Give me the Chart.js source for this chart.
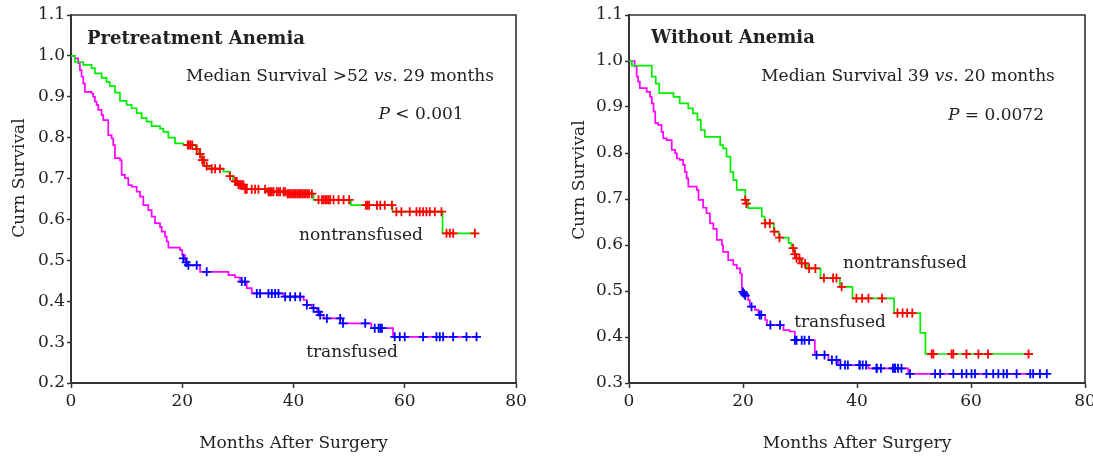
<!DOCTYPE html>
<html><head><meta charset="utf-8">
<script src="https://cdn.jsdelivr.net/npm/chart.js@4/dist/chart.umd.min.js"></script>
<style>
html,body{margin:0;padding:0;background:#fff;width:1093px;height:459px;overflow:hidden;}
#w1{position:absolute;left:0;top:0;width:546px;height:459px;}
#w2{position:absolute;left:546px;top:0;width:547px;height:459px;}
</style></head><body>
<div id="w1"><canvas id="c1" width="546" height="459"></canvas></div>
<div id="w2"><canvas id="c2" width="547" height="459"></canvas></div>
<script>
// ---------- tick labels ----------
const xTicks = [0, 20, 40, 60, 80];
const yTicksA = [0.2, 0.3, 0.4, 0.5, 0.6, 0.7, 0.8, 0.9, 1.0, 1.1];
const yTicksB = [0.3, 0.4, 0.5, 0.6, 0.7, 0.8, 0.9, 1.0, 1.1];

// ---------- Panel A: Pretreatment Anemia ----------
const aNonTime = [0, 0.7, 2.2, 3.7, 4.3, 5.5, 6.4, 7.0, 7.9, 8.8, 10.0, 10.9, 11.8, 12.7, 13.6, 14.5, 16.0, 16.6, 17.5, 18.7, 20.2, 22.4, 23.0, 23.5, 24.0, 24.8, 27.4, 28.5, 29.1, 30.0, 31.2, 35.2, 38.8, 43.6, 50.3, 57.8, 66.8, 72.9];
const aNonSurv = [1.0, 0.985, 0.978, 0.970, 0.957, 0.946, 0.936, 0.926, 0.910, 0.890, 0.880, 0.872, 0.860, 0.848, 0.839, 0.828, 0.822, 0.814, 0.800, 0.786, 0.782, 0.772, 0.760, 0.745, 0.731, 0.724, 0.717, 0.706, 0.693, 0.685, 0.674, 0.668, 0.663, 0.648, 0.635, 0.619, 0.566, 0.566];
const aNonCensTime = [21.0, 21.2, 21.5, 21.8, 22.6, 23.2, 23.6, 23.9, 24.4, 25.3, 25.9, 26.8, 28.6, 29.5, 29.8, 30.1, 30.4, 30.7, 31.0, 31.3, 31.6, 32.5, 33.1, 33.7, 34.9, 35.5, 35.8, 36.1, 36.4, 37.0, 37.3, 37.6, 38.2, 38.5, 38.9, 39.2, 39.5, 39.8, 40.1, 40.4, 40.7, 41.0, 41.3, 41.6, 41.9, 42.2, 42.5, 42.8, 43.3, 44.5, 45.1, 45.4, 45.7, 46.0, 46.3, 46.6, 47.2, 48.1, 49.0, 50.0, 53.0, 53.3, 53.6, 55.0, 55.6, 56.4, 57.7, 58.5, 59.4, 60.9, 62.1, 62.7, 63.3, 63.9, 64.5, 65.4, 66.6, 67.5, 68.1, 68.7, 72.6];
const aNonCensSurv = [0.782, 0.782, 0.782, 0.782, 0.772, 0.760, 0.745, 0.745, 0.731, 0.724, 0.724, 0.724, 0.706, 0.693, 0.693, 0.685, 0.685, 0.685, 0.685, 0.674, 0.674, 0.674, 0.674, 0.674, 0.674, 0.668, 0.668, 0.668, 0.668, 0.668, 0.668, 0.668, 0.668, 0.668, 0.663, 0.663, 0.663, 0.663, 0.663, 0.663, 0.663, 0.663, 0.663, 0.663, 0.663, 0.663, 0.663, 0.663, 0.663, 0.648, 0.648, 0.648, 0.648, 0.648, 0.648, 0.648, 0.648, 0.648, 0.648, 0.648, 0.635, 0.635, 0.635, 0.635, 0.635, 0.635, 0.635, 0.619, 0.619, 0.619, 0.619, 0.619, 0.619, 0.619, 0.619, 0.619, 0.619, 0.566, 0.566, 0.566, 0.566];

const aTrTime = [0, 0.7, 1.3, 1.6, 1.9, 2.2, 2.5, 3.7, 4.0, 4.3, 4.6, 4.9, 5.5, 5.8, 6.7, 7.3, 7.6, 7.9, 8.8, 9.1, 9.7, 10.3, 10.9, 11.8, 12.4, 13.0, 13.9, 14.5, 15.1, 16.0, 16.3, 16.9, 17.2, 17.5, 19.6, 20.0, 20.5, 20.8, 23.2, 28.3, 29.5, 30.4, 31.6, 32.5, 38.2, 41.8, 42.4, 43.3, 44.2, 44.8, 45.4, 48.9, 54.0, 57.9, 72.9];
const aTrSurv = [1.0, 0.994, 0.982, 0.965, 0.949, 0.933, 0.912, 0.908, 0.900, 0.888, 0.880, 0.868, 0.855, 0.843, 0.806, 0.798, 0.782, 0.750, 0.745, 0.709, 0.701, 0.684, 0.680, 0.668, 0.656, 0.635, 0.623, 0.607, 0.591, 0.582, 0.570, 0.558, 0.546, 0.531, 0.525, 0.513, 0.500, 0.488, 0.472, 0.464, 0.458, 0.448, 0.432, 0.419, 0.411, 0.403, 0.391, 0.383, 0.374, 0.366, 0.358, 0.346, 0.334, 0.313, 0.313];
const aTrCensTime = [20.2, 20.7, 21.1, 22.6, 24.4, 30.7, 31.3, 33.4, 34.0, 35.5, 36.1, 36.7, 37.3, 38.5, 39.4, 40.3, 41.2, 42.4, 43.6, 44.5, 44.8, 46.0, 48.4, 48.9, 52.9, 54.6, 55.3, 55.6, 55.9, 58.2, 59.1, 60.0, 63.3, 65.7, 66.3, 66.9, 68.7, 71.1, 72.9];
const aTrCensSurv = [0.505, 0.495, 0.488, 0.488, 0.472, 0.448, 0.448, 0.419, 0.419, 0.419, 0.419, 0.419, 0.419, 0.411, 0.411, 0.411, 0.411, 0.391, 0.383, 0.374, 0.366, 0.358, 0.358, 0.346, 0.346, 0.334, 0.334, 0.334, 0.334, 0.313, 0.313, 0.313, 0.313, 0.313, 0.313, 0.313, 0.313, 0.313, 0.313];

// ---------- Panel B: Without Anemia ----------
const bNonTime = [0, 0.5, 4.0, 4.7, 5.3, 7.8, 8.9, 10.4, 11.2, 12.0, 12.6, 13.3, 16.0, 16.5, 17.1, 17.8, 18.3, 18.9, 20.4, 20.9, 23.3, 23.8, 25.4, 26.3, 28.0, 28.5, 29.1, 30.0, 31.2, 33.6, 37.0, 39.2, 46.5, 51.1, 52.0, 70.1];
const bNonSurv = [1.0, 0.990, 0.966, 0.951, 0.930, 0.922, 0.908, 0.897, 0.886, 0.872, 0.850, 0.835, 0.817, 0.810, 0.792, 0.759, 0.741, 0.720, 0.698, 0.680, 0.662, 0.647, 0.629, 0.616, 0.604, 0.593, 0.571, 0.560, 0.549, 0.528, 0.509, 0.484, 0.452, 0.409, 0.363, 0.363];
const bNonCensTime = [20.4, 20.6, 23.9, 24.7, 25.5, 26.4, 28.8, 29.1, 29.4, 29.9, 30.3, 30.9, 31.6, 32.7, 34.2, 35.8, 36.4, 37.3, 39.9, 40.9, 42.0, 44.4, 47.1, 48.0, 48.8, 49.7, 53.1, 53.4, 56.6, 56.9, 59.2, 61.3, 63.0, 70.1];
const bNonCensSurv = [0.698, 0.690, 0.647, 0.647, 0.629, 0.616, 0.593, 0.580, 0.571, 0.571, 0.560, 0.560, 0.549, 0.549, 0.528, 0.528, 0.528, 0.509, 0.484, 0.484, 0.484, 0.484, 0.452, 0.452, 0.452, 0.452, 0.363, 0.363, 0.363, 0.363, 0.363, 0.363, 0.363, 0.363];

const bTrTime = [0, 1.0, 1.35, 1.6, 1.9, 3.1, 3.7, 4.0, 4.3, 4.6, 5.1, 5.7, 6.0, 6.6, 7.5, 8.1, 8.4, 8.9, 9.5, 9.8, 10.1, 10.4, 11.9, 12.2, 13.0, 13.6, 14.2, 14.8, 15.4, 16.3, 16.5, 17.4, 18.3, 18.9, 19.5, 19.8, 20.2, 20.9, 21.2, 22.1, 22.7, 23.9, 24.2, 27.1, 28.2, 29.1, 32.6, 35.0, 36.7, 42.0, 49.0, 73.3];
const bTrSurv = [1.0, 0.988, 0.966, 0.955, 0.941, 0.933, 0.922, 0.908, 0.890, 0.865, 0.861, 0.846, 0.832, 0.828, 0.807, 0.799, 0.788, 0.785, 0.774, 0.759, 0.745, 0.727, 0.720, 0.698, 0.681, 0.669, 0.647, 0.635, 0.611, 0.600, 0.585, 0.567, 0.557, 0.549, 0.538, 0.498, 0.490, 0.480, 0.466, 0.459, 0.448, 0.437, 0.426, 0.415, 0.412, 0.393, 0.361, 0.350, 0.339, 0.332, 0.320, 0.320];
const bTrCensTime = [20.0, 20.2, 20.4, 21.5, 22.9, 23.2, 24.8, 26.5, 29.1, 29.4, 30.3, 30.8, 31.6, 32.9, 34.3, 35.6, 36.4, 37.1, 37.9, 38.4, 40.4, 40.5, 41.0, 41.6, 43.4, 43.5, 44.2, 46.3, 46.6, 46.7, 47.2, 47.8, 49.3, 53.7, 54.6, 56.9, 58.4, 59.2, 60.1, 60.7, 62.7, 63.9, 64.8, 65.7, 66.3, 68.0, 70.4, 70.9, 72.1, 73.3];
const bTrCensSurv = [0.498, 0.494, 0.490, 0.466, 0.448, 0.448, 0.426, 0.426, 0.393, 0.393, 0.393, 0.393, 0.393, 0.361, 0.361, 0.350, 0.350, 0.339, 0.339, 0.339, 0.339, 0.339, 0.339, 0.339, 0.332, 0.332, 0.332, 0.332, 0.332, 0.332, 0.332, 0.332, 0.320, 0.320, 0.320, 0.320, 0.320, 0.320, 0.320, 0.320, 0.320, 0.320, 0.320, 0.320, 0.320, 0.320, 0.320, 0.320, 0.320, 0.320];

// ---------- drawing ----------
const FAM = '"DejaVu Serif", "Liberation Serif", serif';
const FS = 17;
const FSB = 18;
const TXT = '#222';
const AX = '#333';

function pts(t, s) { return t.map((v, i) => ({x: v, y: s[i]})); }

function fontOf(p) { return (p.it ? 'italic ' : '') + (p.b ? 'bold ' : '') + (p.b ? FSB : FS) + 'px ' + FAM; }

function drawRich(ctx, parts, x, y, align) {
  let w = 0;
  parts.forEach(p => { ctx.font = fontOf(p); p.w = ctx.measureText(p.t).width; w += p.w; });
  let sx = align === 'center' ? x - w / 2 : (align === 'right' ? x - w : x);
  ctx.textBaseline = 'middle'; ctx.textAlign = 'left'; ctx.fillStyle = TXT;
  parts.forEach(p => { ctx.font = fontOf(p); ctx.fillText(p.t, sx, y); sx += p.w; });
}

function makeChart(id, o) {
  const ctx = document.getElementById(id);
  const textPlugin = {
    id: 'txt' + id,
    afterDraw(chart) {
      const c = chart.ctx, a = chart.chartArea;
      c.save();
      c.strokeStyle = AX; c.lineWidth = 1.6;
      c.beginPath(); c.moveTo(a.left, a.top); c.lineTo(a.right, a.top); c.lineTo(a.right, a.bottom); c.stroke();
      c.save(); c.translate(o.yTitleX, o.yTitleY); c.rotate(-Math.PI / 2);
      c.font = FS + 'px ' + FAM; c.fillStyle = TXT; c.textAlign = 'center'; c.textBaseline = 'middle';
      c.fillText('Curn Survival', 0, 0); c.restore();
      o.texts.forEach(t => drawRich(c, t.parts, t.x, t.y, t.align));
      c.restore();
    }
  };
  return new Chart(ctx, {
    type: 'line',
    data: {
      datasets: [
        {data: pts(o.nonCT, o.nonCS), type: 'scatter', showLine: false, pointStyle: 'cross', pointRadius: 4.5, pointBorderWidth: 1.8, borderColor: '#ff0000', backgroundColor: '#ff0000', order: 0},
        {data: pts(o.trCT, o.trCS), type: 'scatter', showLine: false, pointStyle: 'cross', pointRadius: 4.5, pointBorderWidth: 1.8, borderColor: '#0000ff', backgroundColor: '#0000ff', order: 0},
        {data: pts(o.nonT, o.nonS), stepped: true, borderColor: '#00ee00', borderWidth: 1.7, pointRadius: 0, fill: false, order: 1},
        {data: pts(o.trT, o.trS), stepped: true, borderColor: '#ff00ff', borderWidth: 1.7, pointRadius: 0, fill: false, order: 1}
      ]
    },
    options: {
      responsive: false, animation: false, devicePixelRatio: 1,
      layout: {padding: {left: o.padLeft, right: o.padRight, top: 15, bottom: 0}},
      plugins: {legend: {display: false}, tooltip: {enabled: false}},
      events: [],
      scales: {
        x: {
          type: 'linear', min: 0, max: 80,
          afterBuildTicks: s => { s.ticks = xTicks.map(v => ({value: v})); },
          afterFit: s => { s.height = 76; s.paddingLeft = 0; s.paddingRight = 0; },
          ticks: {color: TXT, font: {family: FAM, size: FS}, padding: 3, maxRotation: 0, autoSkip: false},
          grid: {drawOnChartArea: false, tickLength: 5, tickColor: AX, tickWidth: 1.5},
          border: {color: AX, width: 2},
          title: {display: true, text: 'Months After Surgery', color: TXT, font: {family: FAM, size: FS}, padding: {top: 0, bottom: 5}}
        },
        y: {
          type: 'linear', min: o.ymin, max: 1.1,
          afterBuildTicks: s => { s.ticks = o.yTicks.map(v => ({value: v})); },
          afterFit: s => { s.width = o.yWidth; },
          ticks: {color: TXT, font: {family: FAM, size: FS}, padding: 2, callback: v => v.toFixed(1)},
          grid: {drawOnChartArea: false, tickLength: 4, tickColor: AX, tickWidth: 1.5},
          border: {color: AX, width: 2}
        }
      }
    },
    plugins: [textPlugin]
  });
}

makeChart('c1', {
  nonT: aNonTime, nonS: aNonSurv, nonCT: aNonCensTime, nonCS: aNonCensSurv,
  trT: aTrTime, trS: aTrSurv, trCT: aTrCensTime, trCS: aTrCensSurv,
  ymin: 0.2, yTicks: yTicksA, padLeft: 0, padRight: 30, yWidth: 71,
  yTitleX: 20, yTitleY: 178,
  texts: [
    {parts: [{t: 'Pretreatment Anemia', b: true}], x: 87, y: 39, align: 'left'},
    {parts: [{t: 'Median Survival >52 '}, {t: 'vs', it: true}, {t: '. 29 months'}], x: 340, y: 77, align: 'center'},
    {parts: [{t: 'P', it: true}, {t: ' < 0.001'}], x: 421, y: 115, align: 'center'},
    {parts: [{t: 'nontransfused'}], x: 361, y: 236, align: 'center'},
    {parts: [{t: 'transfused'}], x: 352, y: 353, align: 'center'}
  ]
});

makeChart('c2', {
  nonT: bNonTime, nonS: bNonSurv, nonCT: bNonCensTime, nonCS: bNonCensSurv,
  trT: bTrTime, trS: bTrSurv, trCT: bTrCensTime, trCS: bTrCensSurv,
  ymin: 0.3, yTicks: yTicksB, padLeft: 14, padRight: 8, yWidth: 69,
  yTitleX: 34, yTitleY: 180,
  texts: [
    {parts: [{t: 'Without Anemia', b: true}], x: 105, y: 38, align: 'left'},
    {parts: [{t: 'Median Survival 39 '}, {t: 'vs', it: true}, {t: '. 20 months'}], x: 362, y: 77, align: 'center'},
    {parts: [{t: 'P', it: true}, {t: ' = 0.0072'}], x: 450, y: 116, align: 'center'},
    {parts: [{t: 'nontransfused'}], x: 359, y: 264, align: 'center'},
    {parts: [{t: 'transfused'}], x: 294, y: 323, align: 'center'}
  ]
});
</script>
</body></html>
